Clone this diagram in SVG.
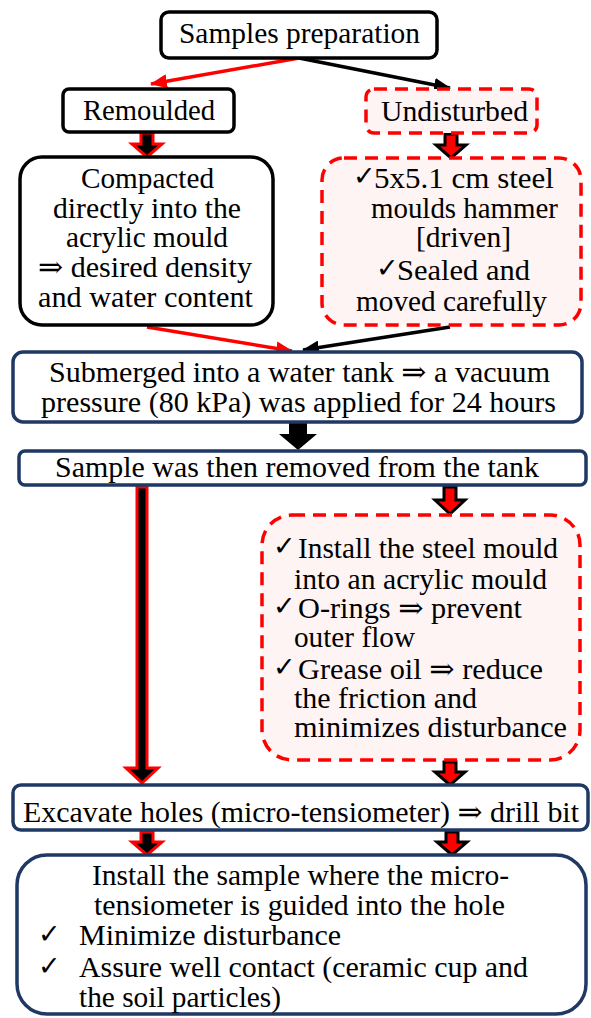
<svg xmlns="http://www.w3.org/2000/svg" width="591" height="1018" viewBox="0 0 591 1018">
<defs>
<style>
text{font-family:"Liberation Serif","Times New Roman","DejaVu Serif",serif;font-size:29.5px;fill:#000}
.ck{font-family:"DejaVu Sans",sans-serif;font-size:27px}
.bk{fill:#fff;stroke:#000;stroke-width:3.5}
.rd{fill:#fff4f4;stroke:#ff0000;stroke-width:3.5;stroke-dasharray:13 8}
.nv{fill:#fff;stroke:#1f3864;stroke-width:3.5}
.lr{stroke:#ff0000;stroke-width:3.5;fill:none}
.lb{stroke:#000;stroke-width:3.5;fill:none}
.ba1{fill:#000;stroke:#ff0000;stroke-width:3;stroke-linejoin:miter}
.ba2{fill:#ff0000;stroke:#000;stroke-width:3;stroke-linejoin:miter}
</style>
<marker id="mr" markerUnits="userSpaceOnUse" markerWidth="18" markerHeight="14" refX="16" refY="7" orient="auto"><path d="M0,0 L17,7 L0,14 Z" fill="#ff0000"/></marker>
<marker id="mb" markerUnits="userSpaceOnUse" markerWidth="18" markerHeight="14" refX="16" refY="7" orient="auto"><path d="M0,0 L17,7 L0,14 Z" fill="#000"/></marker>
</defs>

<g id="connectors">
<line class="lr" x1="299" y1="58" x2="151" y2="84" marker-end="url(#mr)"/>
<line class="lb" x1="299" y1="58" x2="450" y2="88" marker-end="url(#mb)"/>
<line class="lr" x1="147" y1="327" x2="292" y2="351" marker-end="url(#mr)"/>
<line class="lb" x1="450" y1="327" x2="303" y2="350" marker-end="url(#mb)"/>
<path class="ba1" d="M141,133 L153,133 L153,144 L162,144 L147,157 L132,144 L141,144 Z"/>
<path class="ba2" d="M445,134 L457,134 L457,145 L466,145 L451,158 L436,145 L445,145 Z"/>
<path d="M289,423 L307,423 L307,434 L317,434 L298,450 L279,434 L289,434 Z" fill="#000"/>
<path class="ba2" d="M444,487 L456,487 L456,500 L465,500 L450,514 L435,500 L444,500 Z"/>
<path class="ba1" d="M137,487 L147,487 L147,768 L158,768 L142,783 L126,768 L137,768 Z"/>
<path class="ba2" d="M444,762 L456,762 L456,772 L465,772 L450,785 L435,772 L444,772 Z"/>
<path class="ba1" d="M141,832 L153,832 L153,842 L162,842 L147,855 L132,842 L141,842 Z"/>
<path class="ba2" d="M446,832 L458,832 L458,842 L467,842 L452,855 L437,842 L446,842 Z"/>
</g>

<g id="n_samples">
<rect class="bk" x="161" y="12" width="276" height="46" rx="8"/>
<text x="179" y="43" textLength="241" lengthAdjust="spacingAndGlyphs">Samples preparation</text>
</g>

<g id="n_remoulded">
<rect class="bk" x="63" y="89" width="171" height="43" rx="6"/>
<text x="83" y="120" textLength="132" lengthAdjust="spacingAndGlyphs">Remoulded</text>
</g>

<g id="n_undisturbed">
<rect class="rd" x="366" y="89" width="171" height="44" rx="8"/>
<text x="381" y="121" textLength="147" lengthAdjust="spacingAndGlyphs">Undisturbed</text>
</g>

<g id="n_compacted">
<rect class="bk" x="20" y="157" width="253" height="168" rx="22"/>
<text x="81" y="188" textLength="133" lengthAdjust="spacingAndGlyphs">Compacted</text>
<text x="53" y="218" textLength="188" lengthAdjust="spacingAndGlyphs">directly into the</text>
<text x="66" y="247" textLength="162" lengthAdjust="spacingAndGlyphs">acrylic mould</text>
<text x="38" y="277" textLength="214" lengthAdjust="spacingAndGlyphs">⇒ desired density</text>
<text x="38" y="307" textLength="215" lengthAdjust="spacingAndGlyphs">and water content</text>
</g>

<g id="n_undisturbed_detail">
<rect class="rd" x="322" y="158" width="259" height="167" rx="22"/>
<text class="ck" x="353" y="185">✓</text>
<text x="374" y="188" textLength="180" lengthAdjust="spacingAndGlyphs">5x5.1  cm steel</text>
<text x="371" y="218" textLength="187" lengthAdjust="spacingAndGlyphs">moulds hammer</text>
<text x="416" y="247" textLength="95" lengthAdjust="spacingAndGlyphs">[driven]</text>
<text class="ck" x="376" y="277">✓</text>
<text x="397" y="280" textLength="133" lengthAdjust="spacingAndGlyphs">Sealed and</text>
<text x="356" y="311" textLength="191" lengthAdjust="spacingAndGlyphs">moved carefully</text>
</g>

<g id="n_submerged">
<rect class="nv" x="13" y="352" width="569" height="70" rx="10"/>
<text x="49" y="382" textLength="501" lengthAdjust="spacingAndGlyphs">Submerged into a water tank ⇒ a vacuum</text>
<text x="41" y="412" textLength="515" lengthAdjust="spacingAndGlyphs">pressure (80 kPa) was applied for 24 hours</text>
</g>

<g id="n_removed">
<rect class="nv" x="19" y="451" width="567" height="34" rx="6"/>
<text x="55" y="477" textLength="484" lengthAdjust="spacingAndGlyphs">Sample was then removed from the tank</text>
</g>

<g id="n_install_mould">
<rect class="rd" x="262" y="515" width="318" height="245" rx="30"/>
<text class="ck" x="273" y="555">✓</text>
<text x="298" y="558" textLength="260" lengthAdjust="spacingAndGlyphs">Install the steel mould</text>
<text x="294" y="589" textLength="253" lengthAdjust="spacingAndGlyphs">into an acrylic  mould</text>
<text class="ck" x="273" y="615">✓</text>
<text x="298" y="618" textLength="224" lengthAdjust="spacingAndGlyphs">O-rings ⇒ prevent</text>
<text x="294" y="647" textLength="121" lengthAdjust="spacingAndGlyphs">outer flow</text>
<text class="ck" x="273" y="676">✓</text>
<text x="298" y="679" textLength="245" lengthAdjust="spacingAndGlyphs">Grease oil ⇒ reduce</text>
<text x="294" y="708" textLength="183" lengthAdjust="spacingAndGlyphs">the friction and</text>
<text x="294" y="737" textLength="273" lengthAdjust="spacingAndGlyphs">minimizes  disturbance</text>
</g>

<g id="n_excavate">
<rect class="nv" x="13" y="785" width="575" height="45" rx="8"/>
<text x="23" y="822" textLength="556" lengthAdjust="spacingAndGlyphs">Excavate holes (micro-tensiometer)  ⇒ drill bit</text>
</g>

<g id="n_install_sample">
<rect class="nv" x="17" y="855" width="569" height="159" rx="30"/>
<text x="92" y="885" textLength="417" lengthAdjust="spacingAndGlyphs">Install the sample where the micro-</text>
<text x="94" y="915" textLength="411" lengthAdjust="spacingAndGlyphs">tensiometer is guided into the hole</text>
<text class="ck" x="38" y="943">✓</text>
<text x="79" y="945" textLength="262" lengthAdjust="spacingAndGlyphs">Minimize  disturbance</text>
<text class="ck" x="38" y="975">✓</text>
<text x="79" y="977" textLength="449" lengthAdjust="spacingAndGlyphs">Assure well contact (ceramic  cup and</text>
<text x="79" y="1007" textLength="202" lengthAdjust="spacingAndGlyphs">the soil particles)</text>
</g>
</svg>
